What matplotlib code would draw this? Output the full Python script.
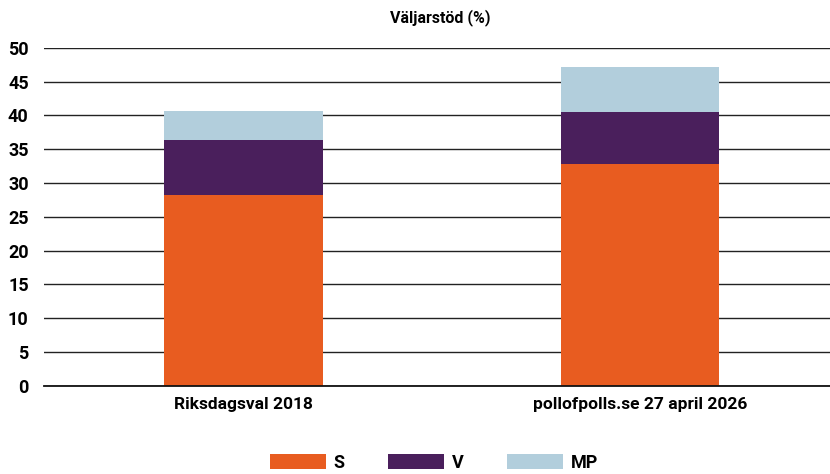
import matplotlib.pyplot as plt
import numpy as np

categories = ['Riksdagsval 2018', 'pollofpolls.se 27 april 2026']
parties = ['S', 'V', 'MP']
s_vals = [28.3, 32.8]
v_vals = [8.0, 7.7]
mp_vals = [4.4, 6.6]
colors = ['#e85c20', '#4a1f5c', '#b2cedc']

plt.rcParams['font.family'] = ['Roboto', 'DejaVu Sans']

fig = plt.figure(figsize=(8.3, 4.74), dpi=100)
ax = fig.add_axes([0.053, 0.186, 0.947, 0.713])

x = np.arange(len(categories))
bottom = np.zeros(len(categories))
for name, vals, col in zip(parties, [s_vals, v_vals, mp_vals], colors):
    ax.bar(x, vals, width=0.4, bottom=bottom, color=col, label=name, zorder=3)
    bottom += np.array(vals)

ax.set_ylim(0, 50)
ax.set_xlim(-0.503, 1.479)
ax.set_yticks(range(0, 51, 5))
ax.set_xticks(x)
ax.set_xticklabels(categories, fontsize=12.5, fontweight='bold')
ax.tick_params(axis='y', labelsize=13, length=0, pad=11)
ax.tick_params(axis='x', length=0, pad=8)
for lab in ax.get_yticklabels():
    lab.set_fontweight('bold')
ax.grid(axis='y', color='#222222', linewidth=1, zorder=0)
ax.axhline(0, color='#111111', linewidth=1.3, zorder=4, clip_on=False)
for sp in ax.spines.values():
    sp.set_visible(False)

fig.text(0.531, 0.962, 'Väljarstöd (%)', ha='center', va='center',
         fontsize=11.5, fontweight='bold')

fig.legend(loc='center', bbox_to_anchor=(0.523, 0.024), ncol=3, frameon=False,
           prop={'weight': 'bold', 'size': 13},
           handlelength=3.1, handleheight=0.9, columnspacing=2.4, handletextpad=0.45)

fig.savefig('out.png', dpi=100)
